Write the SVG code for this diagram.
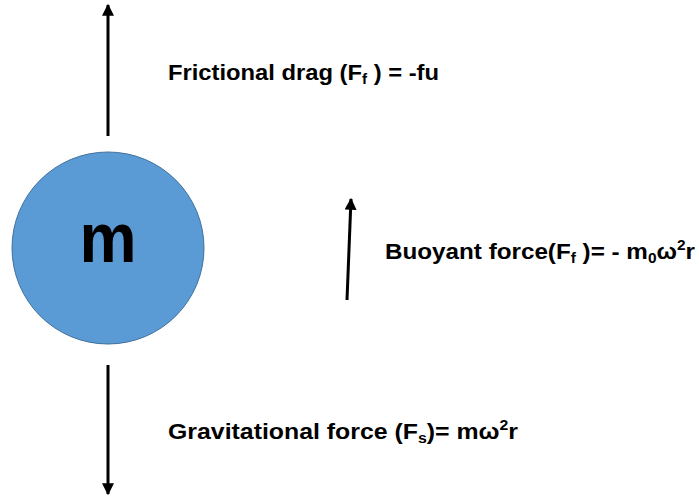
<svg xmlns="http://www.w3.org/2000/svg" width="699" height="497" viewBox="0 0 699 497">
<style>
.lbl{font-family:"Liberation Sans",Arial,sans-serif;font-weight:bold;font-size:22px;fill:#000}
.sub{font-size:14px}
.conn{stroke:#000;stroke-width:3;fill:none}
</style>
<defs>
<marker id="ah" viewBox="0 0 10 10" refX="9" refY="5" markerWidth="4" markerHeight="4" orient="auto" markerUnits="strokeWidth">
<path d="M0,0 L10,5 L0,10 Z" fill="#000"/>
</marker>
</defs>
<rect width="699" height="497" fill="#fff"/>
<g id="connectors">
<line class="conn" x1="108" y1="136" x2="108" y2="5" marker-end="url(#ah)"/>
<line class="conn" x1="108" y1="365" x2="108" y2="494" marker-end="url(#ah)"/>
<line class="conn" x1="347" y1="300" x2="351" y2="199" marker-end="url(#ah)"/>
</g>
<g id="mass">
<circle cx="108" cy="248" r="96" fill="#5b9bd5" stroke="#41719c" stroke-width="1"/>
<text x="108" y="262" text-anchor="middle" font-family="Liberation Sans,Arial,sans-serif" font-weight="bold" font-size="70" textLength="57" lengthAdjust="spacingAndGlyphs">m</text>
</g>
<g id="friction">
<text class="lbl" x="168" y="80" textLength="271" lengthAdjust="spacingAndGlyphs">Frictional drag (F<tspan class="sub" dy="4">f</tspan><tspan dy="-4"> ) = -fu</tspan></text>
</g>
<g id="buoyant">
<text class="lbl" x="385" y="259" textLength="310" lengthAdjust="spacingAndGlyphs">Buoyant force(F<tspan class="sub" dy="4">f</tspan><tspan dy="-4"> )= - m</tspan><tspan class="sub" dy="4">0</tspan><tspan dy="-4">ω</tspan><tspan class="sub" dy="-9">2</tspan><tspan dy="9">r</tspan></text>
</g>
<g id="gravity">
<text class="lbl" x="168" y="439" textLength="350" lengthAdjust="spacingAndGlyphs">Gravitational force (F<tspan class="sub" dy="4">s</tspan><tspan dy="-4">)= mω</tspan><tspan class="sub" dy="-9">2</tspan><tspan dy="9">r</tspan></text>
</g>
</svg>
